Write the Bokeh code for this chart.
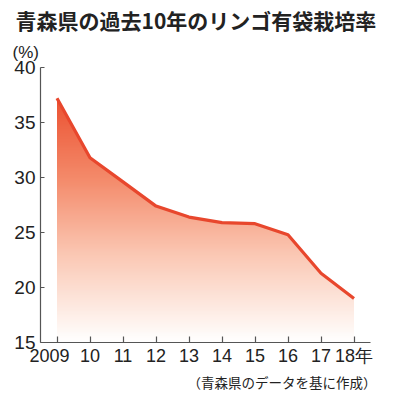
import numpy as np
from bokeh.plotting import figure
from bokeh.models import Range1d, FixedTicker, Title
from bokeh.embed import file_html
from bokeh.resources import INLINE

# ---- data ----
years = [2009, 2010, 2011, 2012, 2013, 2014, 2015, 2016, 2017, 2018]
rates = [37.2, 31.8, 29.6, 27.4, 26.4, 25.9, 25.8, 24.8, 21.3, 19.0]
x_labels = ["2009\u00a0\u00a0\u00a0", "10", "11", "12", "13", "14", "15", "16", "17", "18年"]
y_ticks = [15, 20, 25, 30, 35, 40]
title_text = "青森県の過去10年のリンゴ有袋栽培率"
unit_text = "(%)"
source_text = "（青森県のデータを基に作成）"

Y0, Y1 = 15, 40

p = figure(width=390, height=392, output_backend="svg", toolbar_location=None,
           x_range=Range1d(years[0] - 0.5, years[-1] + 0.5),
           y_range=Range1d(Y0, Y1),
           min_border_left=40, min_border_right=20,
           min_border_top=67, min_border_bottom=43)
p.outline_line_color = None
p.grid.visible = False
p.background_fill_color = "white"
p.border_fill_color = "white"

# gradient fill under the line
top = max(rates)
N = 256
ys = np.linspace(Y0, top, N)
stops_y = [Y0, 15.6, 23.0, 30.0, top]
stops_r = [255, 255, 251, 244, 236]
stops_g = [255, 252, 200, 138, 82]
stops_b = [255, 250, 180, 106, 50]
r = np.interp(ys, stops_y, stops_r).astype(np.uint32)
g = np.interp(ys, stops_y, stops_g).astype(np.uint32)
b = np.interp(ys, stops_y, stops_b).astype(np.uint32)
img = np.empty((N, 1), dtype=np.uint32)
view = img.view(dtype=np.uint8).reshape((N, 1, 4))
view[:, 0, 0] = r
view[:, 0, 1] = g
view[:, 0, 2] = b
view[:, 0, 3] = 255
p.image_rgba(image=[img], x=years[0], y=Y0, dw=years[-1] - years[0], dh=top - Y0)

# white mask above the line
mask_x = years + [years[-1], years[0]]
mask_y = rates + [Y1, Y1]
p.patch(mask_x, mask_y, fill_color="white", line_color="white", line_width=1)

p.line(years, rates, line_color="#e8472d", line_width=3.2, line_join="round")

# axes
for ax in (p.xaxis[0], p.yaxis[0]):
    ax.axis_line_color = "#555555"
    ax.axis_line_width = 1.2
    ax.major_tick_line_color = "#555555"
    ax.major_tick_line_width = 1.2
    ax.minor_tick_line_color = None
    ax.major_tick_out = 0
    ax.major_label_text_font = "Liberation Sans"
    ax.major_label_text_color = "#222222"

p.xaxis.major_label_text_font_size = "18px"
p.yaxis.major_label_text_font_size = "19px"
p.xaxis.ticker = FixedTicker(ticks=years)
p.xaxis.major_label_overrides = {y: l for y, l in zip(years, x_labels)}
p.xaxis.major_tick_in = 6
p.xaxis.major_label_standoff = 3

p.yaxis.ticker = FixedTicker(ticks=y_ticks)
p.yaxis.major_tick_in = 4
p.yaxis.major_label_standoff = 5

# texts
p.add_layout(Title(text=unit_text, text_font="Liberation Sans",
                   text_font_size="17px", text_font_style="normal",
                   text_color="#222222", align="left", offset=-28,
                   standoff=12), "above")
p.add_layout(Title(text=title_text, text_font="Noto Sans CJK JP",
                   text_font_size="21px", text_font_style="bold",
                   text_color="#222222", align="left", offset=-25,
                   standoff=0), "above")
p.add_layout(Title(text=source_text, text_font="Noto Sans CJK JP",
                   text_font_size="13.5px", text_font_style="normal",
                   text_color="#222222", align="right", offset=-6,
                   standoff=2), "below")

open("out.html", "w").write(file_html(p, INLINE))
